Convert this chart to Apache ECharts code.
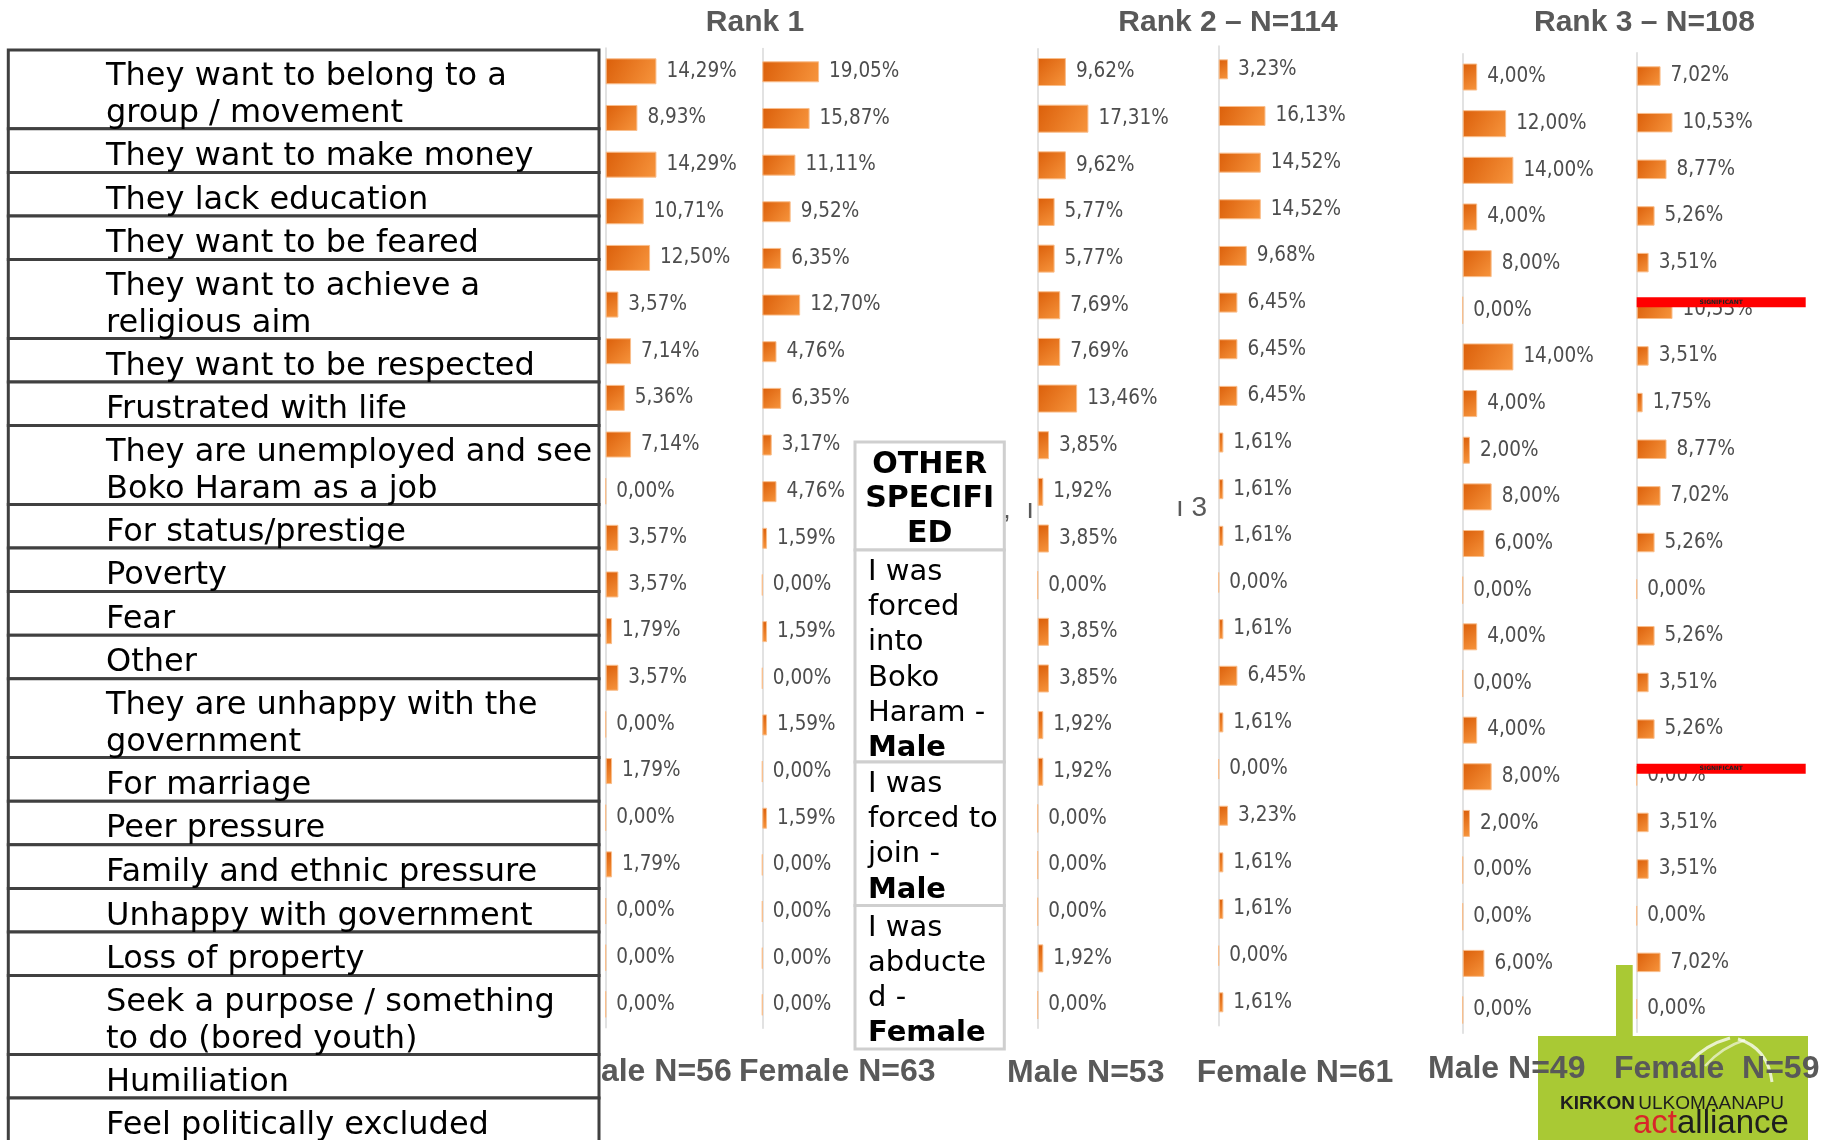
<!DOCTYPE html>
<html>
<head>
<meta charset="utf-8">
<script src="https://cdn.jsdelivr.net/npm/echarts@6/dist/echarts.min.js"></script>
<style>
html, body { margin: 0; background: #fff; }
#chart { width: 1831px; height: 1140px; }
</style>
</head>
<body>
<div id="chart"></div>
<script>
// reasons (rows of the table, '\n' marks a wrapped line)
var reasons = [
  'They want to belong to a\ngroup / movement',
  'They want to make money',
  'They lack education',
  'They want to be feared',
  'They want to achieve a\nreligious aim',
  'They want to be respected',
  'Frustrated with life',
  'They are unemployed and see\nBoko Haram as a job',
  'For status/prestige',
  'Poverty',
  'Fear',
  'Other',
  'They are unhappy with the\ngovernment',
  'For marriage',
  'Peer pressure',
  'Family and ethnic pressure',
  'Unhappy with government',
  'Loss of property',
  'Seek a purpose / something\nto do (bored youth)',
  'Humiliation',
  'Feel politically excluded'
];

var rank1Male   = [14.29, 8.93, 14.29, 10.71, 12.50, 3.57, 7.14, 5.36, 7.14, 0.00, 3.57, 3.57, 1.79, 3.57, 0.00, 1.79, 0.00, 1.79, 0.00, 0.00, 0.00];
var rank1Female = [19.05, 15.87, 11.11, 9.52, 6.35, 12.70, 4.76, 6.35, 3.17, 4.76, 1.59, 0.00, 1.59, 0.00, 1.59, 0.00, 1.59, 0.00, 0.00, 0.00, 0.00];
var rank2Male   = [9.62, 17.31, 9.62, 5.77, 5.77, 7.69, 7.69, 13.46, 3.85, 1.92, 3.85, 0.00, 3.85, 3.85, 1.92, 1.92, 0.00, 0.00, 0.00, 1.92, 0.00];
var rank2Female = [3.23, 16.13, 14.52, 14.52, 9.68, 6.45, 6.45, 6.45, 1.61, 1.61, 1.61, 0.00, 1.61, 6.45, 1.61, 0.00, 3.23, 1.61, 1.61, 0.00, 1.61];
var rank3Male   = [4.00, 12.00, 14.00, 4.00, 8.00, 0.00, 14.00, 4.00, 2.00, 8.00, 6.00, 0.00, 4.00, 0.00, 4.00, 8.00, 2.00, 0.00, 0.00, 6.00, 0.00];
var rank3Female = [7.02, 10.53, 8.77, 5.26, 3.51, 10.53, 3.51, 1.75, 8.77, 7.02, 5.26, 0.00, 5.26, 3.51, 5.26, 0.00, 3.51, 3.51, 0.00, 7.02, 0.00];

var significantRows = [5, 15];  // rows flagged in the Rank 3 female column

var rankTitles = ['Rank 1', 'Rank 2 \u2013 N=114', 'Rank 3 \u2013 N=108'];
var groupLabels = ['Male N=56', 'Female N=63', 'Male N=53', 'Female N=61', 'Male N=49', 'Female  N=59'];

var otherHeader = ['OTHER', 'SPECIFI', 'ED'];
var otherAnswers = [
  ['I was', 'forced', 'into', 'Boko', 'Haram -', '*Male'],
  ['I was', 'forced to', 'join -', '*Male'],
  ['I was', 'abducte', 'd -', '*Female']
];

var XMAX = 30;
var ROW = 46.65;
var labelFont = "'DejaVu Sans Condensed', 'DejaVu Sans', sans-serif";

var panels = [
  { data: rank1Male,   left: 605.7,  top: 48,   pxPer: 3.55, barWidth: 26 },
  { data: rank1Female, left: 762.3,  top: 48.5, pxPer: 2.98, barWidth: 21 },
  { data: rank2Male,   left: 1037.7, top: 48.7, pxPer: 2.93, barWidth: 28 },
  { data: rank2Female, left: 1218.7, top: 46,   pxPer: 2.90, barWidth: 20 },
  { data: rank3Male,   left: 1462.7, top: 53.7, pxPer: 3.62, barWidth: 27 },
  { data: rank3Female, left: 1636.7, top: 52.7, pxPer: 3.40, barWidth: 19.5 }
];

function pct(v) {
  return v.toFixed(2).replace('.', ',') + '%';
}

var grids = [], xAxes = [], yAxes = [], series = [];
panels.forEach(function (p, i) {
  grids.push({ left: p.left, top: p.top, width: p.pxPer * XMAX, height: ROW * reasons.length });
  xAxes.push({ type: 'value', gridIndex: i, min: 0, max: XMAX, show: false });
  yAxes.push({
    type: 'category', gridIndex: i, inverse: true, data: reasons,
    axisLine: { show: true, lineStyle: { color: '#d9d9d9', width: 1.5 } },
    axisTick: { show: false }, axisLabel: { show: false }
  });
  var s = {
    type: 'bar', xAxisIndex: i, yAxisIndex: i, data: p.data,
    barWidth: p.barWidth, animation: false,
    itemStyle: {
      color: new echarts.graphic.LinearGradient(0, 0, 1, 1, [
        { offset: 0, color: '#db5f0a' }, { offset: 1, color: '#f7953d' }
      ]),
      borderColor: '#f9be8c', borderWidth: 1
    },
    label: {
      show: true, position: 'right', distance: 10,
      formatter: function (d) { return pct(d.value); },
      color: '#4d4d4d', fontSize: 20.5, fontFamily: labelFont
    }
  };
  if (i === 5) {
    s.markPoint = {
      symbol: 'rect', symbolSize: [169, 10], symbolOffset: [84.5, -7],
      itemStyle: { color: '#ff0000' },
      label: { show: true, formatter: 'SIGNIFICANT', color: '#222', fontSize: 6, fontWeight: 'bold', fontFamily: 'DejaVu Sans' },
      data: significantRows.map(function (r) { return { coord: [0, r] }; })
    };
  }
  series.push(s);
});

// ---- static slide elements ----
var g = [];

// table of reasons
var tTop = 50, yy = tTop;
reasons.forEach(function (r) {
  var two = r.indexOf('\n') >= 0;
  var h = two ? 78.8 : 43.6;
  g.push({ type: 'rect', z: 10, shape: { x: 8.3, y: yy, width: 590.7, height: h },
    style: { fill: '#fff', stroke: '#404040', lineWidth: 3 } });
  g.push({ type: 'text', z: 11, style: {
    text: r, x: 106, y: yy + h / 2 + 6, verticalAlign: 'middle',
    font: '32px "DejaVu Sans"', fill: '#000', lineHeight: 37 } });
  yy += h;
});

// rank titles
[755, 1228, 1644.5].forEach(function (cx, i) {
  g.push({ type: 'text', z: 5, style: { text: rankTitles[i], x: cx, y: 23, align: 'center', verticalAlign: 'middle',
    font: 'bold 30px "Liberation Sans"', fill: '#595959' } });
});

// logo
var green = '#a9c934';
g.push({ type: 'rect', z: 3, shape: { x: 1538, y: 1036, width: 270, height: 110 }, style: { fill: green } });
g.push({ type: 'rect', z: 3, shape: { x: 1616, y: 965, width: 16.7, height: 75 }, style: { fill: green } });
g.push({ type: 'bezierCurve', z: 4, shape: { x1: 1690, y1: 1062, x2: 1730, y2: 1038, cpx1: 1705, cpy1: 1045 },
  style: { stroke: 'rgba(255,255,255,0.75)', lineWidth: 3, fill: null } });
g.push({ type: 'bezierCurve', z: 4, shape: { x1: 1705, y1: 1066, x2: 1745, y2: 1040, cpx1: 1722, cpy1: 1047 },
  style: { stroke: 'rgba(255,255,255,0.6)', lineWidth: 2.5, fill: null } });
g.push({ type: 'bezierCurve', z: 4, shape: { x1: 1738, y1: 1039, x2: 1772, y2: 1082, cpx1: 1768, cpy1: 1048 },
  style: { stroke: 'rgba(255,255,255,0.75)', lineWidth: 3, fill: null } });
g.push({ type: 'text', z: 4, style: { x: 1560, y: 1104, verticalAlign: 'middle',
  text: '{b|KIRKON} {r|ULKOMAANAPU}',
  rich: { b: { font: 'bold 19px "Liberation Sans"', fill: '#1e1e1e' }, r: { font: '19px "Liberation Sans"', fill: '#1e1e1e' } } } });
g.push({ type: 'text', z: 4, style: { x: 1633, y: 1140, verticalAlign: 'bottom',
  text: '{a|act}{b|alliance}',
  rich: { a: { font: '33px "Liberation Sans"', fill: '#d8262a' }, b: { font: '33px "Liberation Sans"', fill: '#1e1e1e' } } } });

// group labels under the columns
var gl = [
  { x: 731.7, y: 1072, align: 'right' }, { x: 739, y: 1072, align: 'left' },
  { x: 1007, y: 1073, align: 'left' }, { x: 1196.7, y: 1073, align: 'left' },
  { x: 1428, y: 1069, align: 'left' }, { x: 1614, y: 1069, align: 'left' }
];
gl.forEach(function (p, i) {
  g.push({ type: 'text', z: i === 0 ? 2 : 6, style: { text: groupLabels[i], x: p.x, y: p.y, align: p.align,
    verticalAlign: 'middle', font: 'bold 32px "Liberation Sans"', fill: '#595959' } });
});

// stray marks
g.push({ type: 'text', z: 1, style: { text: ',  \u0131', x: 1003, y: 510, verticalAlign: 'middle', font: '28px "Liberation Sans"', fill: '#595959' } });
g.push({ type: 'text', z: 1, style: { text: '\u0131 3', x: 1176, y: 508, verticalAlign: 'middle', font: '28px "Liberation Sans"', fill: '#595959' } });

// OTHER SPECIFIED box
var bx = 855, bw = 149.3;
var cells = [[442, 550], [550, 762], [762, 905.5], [905.5, 1049]];
cells.forEach(function (c) {
  g.push({ type: 'rect', z: 7, shape: { x: bx, y: c[0], width: bw, height: c[1] - c[0] },
    style: { fill: '#fff', stroke: '#cfcfcf', lineWidth: 3 } });
});
otherHeader.forEach(function (t, i) {
  g.push({ type: 'text', z: 8, style: { text: t, x: bx + bw / 2, y: cells[0][0] + 23 + i * 34.5, align: 'center',
    verticalAlign: 'middle', font: 'bold 30px "DejaVu Sans"', fill: '#000' } });
});
otherAnswers.forEach(function (lines, k) {
  var top = cells[k + 1][0];
  lines.forEach(function (t, i) {
    var bold = t.charAt(0) === '*';
    g.push({ type: 'text', z: 8, style: { text: bold ? t.slice(1) : t, x: 868, y: top + 22.5 + i * 35.2,
      verticalAlign: 'middle', font: (bold ? 'bold ' : '') + '29px "DejaVu Sans"', fill: '#000' } });
  });
});

var chart = echarts.init(document.getElementById('chart'));
chart.setOption({
  backgroundColor: '#fff',
  animation: false,
  grid: grids,
  xAxis: xAxes,
  yAxis: yAxes,
  series: series,
  graphic: { elements: g }
});
</script>
</body>
</html>
